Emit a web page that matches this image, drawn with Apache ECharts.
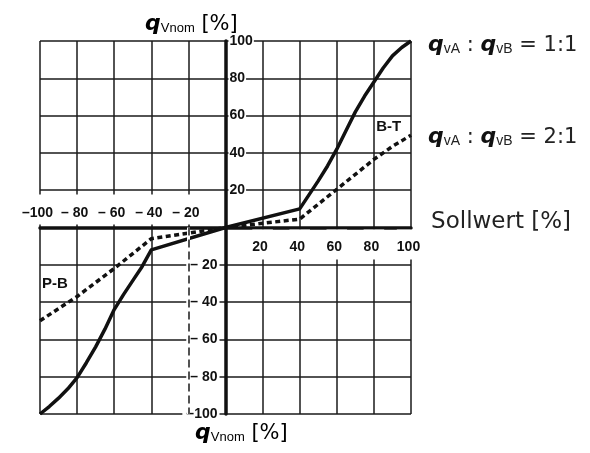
<!DOCTYPE html>
<html>
<head>
<meta charset="utf-8">
<script src="https://cdn.jsdelivr.net/npm/echarts@6/dist/echarts.min.js"></script>
<style>
  html, body { margin: 0; padding: 0; background: #fff; }
  #chart { width: 590px; height: 453px; }
</style>
</head>
<body>
<div id="chart"></div>
<script>
// Axis ticks (Sollwert on x, q_Vnom on y), both in percent
const tickValuesNeg = [-100, -80, -60, -40, -20];
const tickValuesPos = [20, 40, 60, 80, 100];
const tickTextNeg = ['–100', '– 80', '– 60', '– 40', '– 20'];
const tickTextPos = ['20', '40', '60', '80', '100'];

// Characteristic for q_vA : q_vB = 1:1 (solid)
const ratio11X = [-100, -95, -90, -85, -80, -75, -70, -65, -60, -55, -50, -45, -40, 0, 40, 45, 50, 55, 60, 65, 70, 75, 80, 85, 90, 95, 100];
const ratio11Y = [-100, -96, -91.5, -86.5, -80.5, -72.5, -64, -54.5, -44, -36, -28.5, -21, -12, 0, 10, 17.5, 25, 33, 42, 52, 62, 70.5, 78, 85.5, 92, 96.5, 100];

// Characteristic for q_vA : q_vB = 2:1 (dotted)
const ratio21X = [-100, -90, -80, -70, -60, -50, -40, 0, 40, 50, 60, 70, 80, 90, 100];
const ratio21Y = [-50, -43.5, -37, -29.5, -22, -14, -6, 0, 4.5, 12.5, 20.5, 28.5, 36.5, 43.5, 49.5];

const ratioNames = ['1:1', '2:1'];

// Flow-path tags
const tagNames = ['B-T', 'P-B'];
const tagX = [88, -92];
const tagY = [54, -30];

// Sollwert at which the lower dashed guide is drawn
const guideX = -20;

const tickFont = "'Liberation Sans', Arial, sans-serif";
const textFont = "'DejaVu Sans', sans-serif";

function zip(xs, ys) { return xs.map((x, i) => [x, ys[i]]); }
function lookup(vals, texts) {
  return function (v) {
    const i = vals.indexOf(Math.round(v));
    return i < 0 ? '' : texts[i];
  };
}

const labelBase = {
  fontFamily: tickFont,
  fontWeight: 'bold',
  fontSize: 14,
  color: '#111',
  backgroundColor: '#fff',
  showMinLabel: true,
  showMaxLabel: true,
  hideOverlap: false
};
const axisLineStyle = { color: '#111', width: 3.5 };
const gridLineStyle = { color: '#1a1a1a', width: 1.5 };

const rich = {
  q: { fontFamily: textFont, fontWeight: 'bold', fontStyle: 'italic', fontSize: 22, color: '#111', verticalAlign: 'bottom', lineHeight: 24 },
  s: { fontFamily: tickFont, fontSize: 14, color: '#222', verticalAlign: 'bottom', lineHeight: 21 },
  n: { fontFamily: tickFont, fontSize: 13, color: '#222', verticalAlign: 'bottom', lineHeight: 21 },
  t: { fontFamily: textFont, fontSize: 21, color: '#222', verticalAlign: 'bottom', lineHeight: 24 }
};

const rect = { left: 40, right: 179, top: 41, bottom: 39, containLabel: false, outerBoundsMode: 'none' };
const common = { type: 'value', min: -100, max: 100, interval: 20 };

const chart = echarts.init(document.getElementById('chart'), null, { renderer: 'canvas' });

chart.setOption({
  animation: false,
  backgroundColor: '#fff',
  grid: [rect],
  xAxis: [
    Object.assign({}, common, { // raster
      position: 'bottom', z: 0,
      axisLine: { show: false }, axisTick: { show: false }, axisLabel: { show: false },
      splitLine: { show: true, lineStyle: gridLineStyle }
    }),
    Object.assign({}, common, { // zero line + positive labels underneath
      position: 'bottom', z: 3,
      axisLine: { show: true, onZero: false, lineStyle: axisLineStyle },
      axisTick: { show: false }, splitLine: { show: false },
      axisLabel: Object.assign({}, labelBase, {
        customValues: tickValuesPos, formatter: lookup(tickValuesPos, tickTextPos),
        margin: 2, padding: [11, 5, 5, 0]
      }),
      name: 'Sollwert [%]', nameLocation: 'end', nameGap: 15,
      nameTextStyle: { fontFamily: textFont, fontSize: 23, color: '#222', align: 'left', verticalAlign: 'bottom', lineHeight: 10 }
    }),
    Object.assign({}, common, { // negative labels above the zero line
      position: 'top', z: 3,
      axisLine: { show: false, onZero: false },
      axisTick: { show: false }, splitLine: { show: false },
      axisLabel: Object.assign({}, labelBase, {
        customValues: tickValuesNeg, formatter: lookup(tickValuesNeg, tickTextNeg),
        margin: 3, padding: [12, 5, 4, 0]
      })
    })
  ],
  yAxis: [
    Object.assign({}, common, {
      position: 'left', z: 0,
      axisLine: { show: false }, axisTick: { show: false }, axisLabel: { show: false },
      splitLine: { show: true, lineStyle: gridLineStyle }
    }),
    Object.assign({}, common, { // positive labels right of the zero line
      position: 'right', z: 3,
      axisLine: { show: false, onZero: false },
      axisTick: { show: false }, splitLine: { show: false },
      axisLabel: Object.assign({}, labelBase, {
        customValues: tickValuesPos, formatter: lookup(tickValuesPos, tickTextPos),
        margin: 3, padding: [1, 1, 1, 1]
      })
    }),
    Object.assign({}, common, { // zero line + negative labels to the left
      position: 'left', z: 3,
      axisLine: { show: true, onZero: false, lineStyle: axisLineStyle },
      axisTick: { show: false }, splitLine: { show: false },
      axisLabel: Object.assign({}, labelBase, {
        customValues: tickValuesNeg, formatter: lookup(tickValuesNeg, tickTextNeg),
        margin: 6, padding: [1, 2, 1, 4]
      })
    })
  ],
  graphic: [
    {
      type: 'text', left: 145, top: 13, z: 10,
      style: { rich: rich, text: '{q|q}{n|Vnom}{t| [%]}' }
    },
    {
      type: 'text', left: 195, top: 422, z: 10,
      style: { rich: rich, text: '{q|q}{n|Vnom}{t| [%]}' }
    }
  ],
  series: [
    { // white gap behind the dashed guide
      type: 'line', data: [], z: 1, silent: true, xAxisIndex: 0, yAxisIndex: 0,
      markLine: {
        silent: true, symbol: 'none', label: { show: false },
        lineStyle: { color: '#fff', width: 3, type: 'solid' },
        data: [[{ coord: [guideX, 0] }, { coord: [guideX, -100] }]]
      }
    },
    {
      type: 'line', data: [], z: 1, silent: true, xAxisIndex: 0, yAxisIndex: 0,
      markLine: {
        silent: true, symbol: 'none', label: { show: false },
        lineStyle: { color: '#1a1a1a', width: 1.5, type: [8, 4] },
        data: [[{ coord: [guideX, 0] }, { coord: [guideX, -100] }]]
      }
    },
    {
      name: ratioNames[0], type: 'line', data: zip(ratio11X, ratio11Y), z: 2,
      xAxisIndex: 0, yAxisIndex: 0,
      showSymbol: false, symbol: 'none', smooth: false,
      lineStyle: { color: '#111', width: 3.5, join: 'round' },
      endLabel: {
        show: true, offset: [9, 3], align: 'left',
        formatter: '{q|q}{s|vA}{t| : }{q|q}{s|vB}{t| = ' + ratioNames[0] + '}',
        rich: rich
      }
    },
    {
      name: ratioNames[1], type: 'line', data: zip(ratio21X, ratio21Y), z: 2,
      xAxisIndex: 0, yAxisIndex: 0,
      showSymbol: false, symbol: 'none', smooth: false,
      lineStyle: { color: '#111', width: 3.5, type: [5, 3.5], cap: 'butt' },
      endLabel: {
        show: true, offset: [9, 1], align: 'left',
        formatter: '{q|q}{s|vA}{t| : }{q|q}{s|vB}{t| = ' + ratioNames[1] + '}',
        rich: rich
      },
      markPoint: {
        symbol: 'circle', symbolSize: 0, silent: true,
        label: {
          show: true, position: 'inside',
          fontFamily: tickFont, fontWeight: 'bold', fontSize: 15, color: '#111',
          formatter: p => p.name
        },
        data: tagNames.map((n, i) => ({ name: n, coord: [tagX[i], tagY[i]] }))
      }
    }
  ]
});

// Move the labelled axes onto the origin of the raster axes.
const zero = chart.convertToPixel({ xAxisIndex: 0, yAxisIndex: 0 }, [0, 0]);
const gridLeft = rect.left;
const gridTop = rect.top;
const gridRight = chart.getWidth() - rect.right;
const gridBottom = chart.getHeight() - rect.bottom;
chart.setOption({
  xAxis: [{}, { offset: zero[1] - gridBottom }, { offset: gridTop - zero[1] }],
  yAxis: [{}, { offset: zero[0] - gridRight }, { offset: gridLeft - zero[0] }]
});
</script>
</body>
</html>
